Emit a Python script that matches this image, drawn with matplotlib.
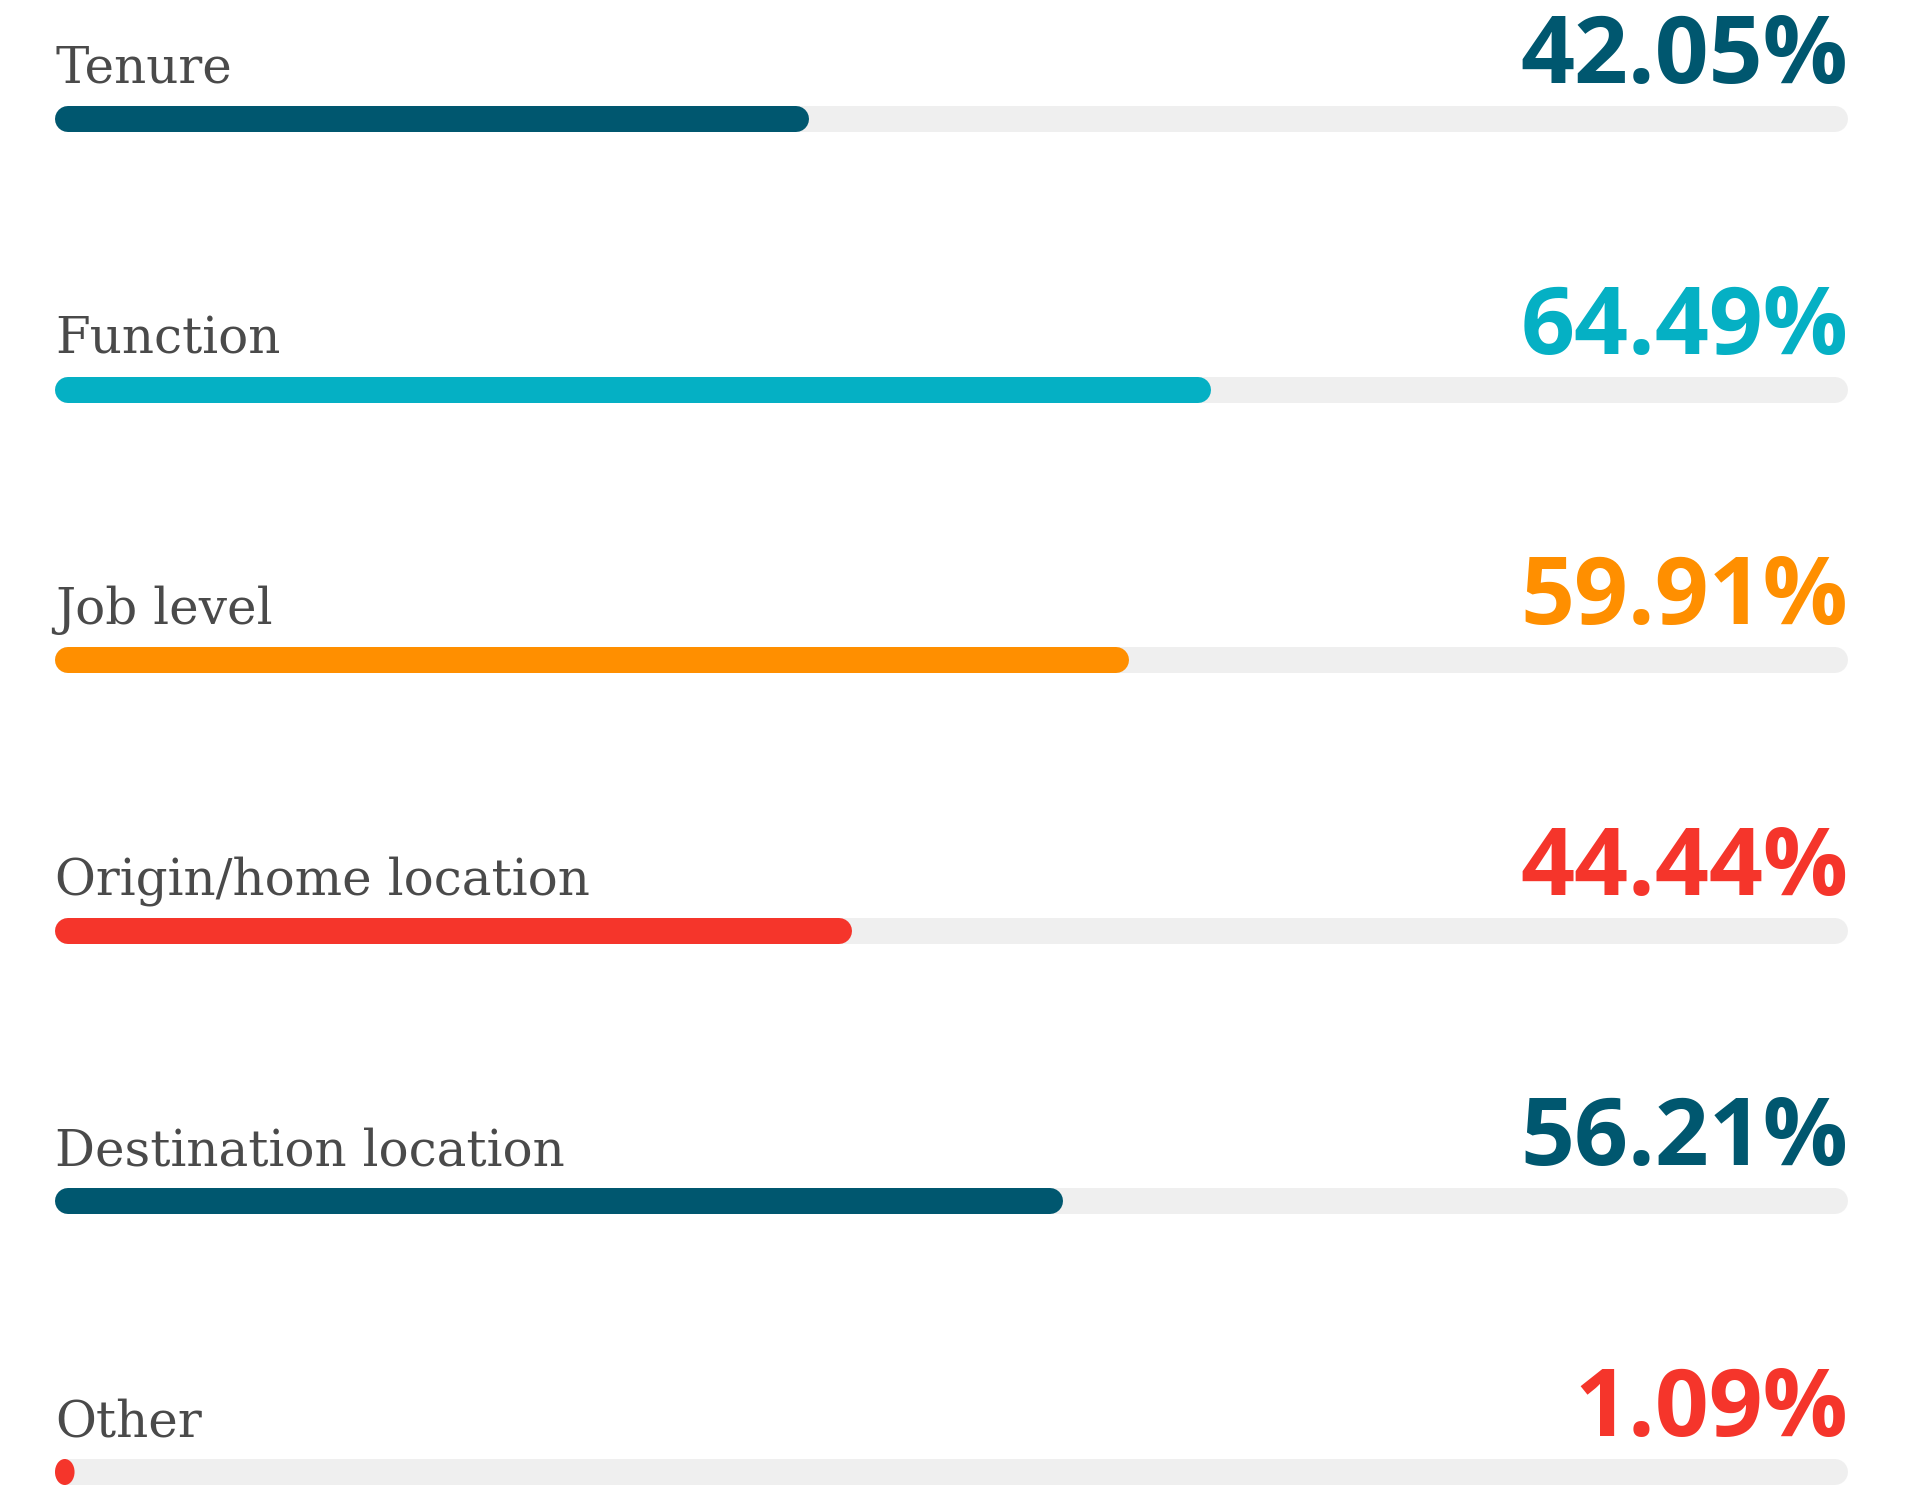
import matplotlib
matplotlib.use("Agg")
import matplotlib.pyplot as plt
from matplotlib.patches import Ellipse

categories = [
    "Tenure", "Function", "Job level",
    "Origin/home location", "Destination location", "Other"
]
values = [42.05, 64.49, 59.91, 44.44, 56.21, 1.09]
value_labels = ["42.05%", "64.49%", "59.91%", "44.44%", "56.21%", "1.09%"]
colors = ["#00576f", "#05b0c4", "#ff8f00", "#f5352b", "#00576f", "#f5352b"]

W, H = 1911, 1487
DPI = 100
TRACK_LEFT, TRACK_RIGHT = 55, 1848
FIRST_ROW, ROW_STEP = 119, 270.6
BAR_PX = 26


def main():
    fig = plt.figure(figsize=(W / DPI, H / DPI), dpi=DPI)
    ax = fig.add_axes([TRACK_LEFT / W, 0, (TRACK_RIGHT - TRACK_LEFT) / W, 1])
    ax.set_xlim(0, 100)
    ax.set_ylim((H - FIRST_ROW) / ROW_STEP, -FIRST_ROW / ROW_STEP)
    ax.axis("off")

    lw = BAR_PX * 72 / DPI
    # cap radius in data units
    r = (BAR_PX / 2) / (TRACK_RIGHT - TRACK_LEFT) * 100
    bar_h = BAR_PX / ROW_STEP
    text_off = 36 / ROW_STEP

    for i, (cat, val, lab, col) in enumerate(zip(categories, values, value_labels, colors)):
        ax.plot([r, 100 - r], [i, i], color="#efefef", lw=lw,
                solid_capstyle="round", zorder=1)
        if val > 2 * r:
            ax.plot([r, val - r], [i, i], color=col, lw=lw,
                    solid_capstyle="round", zorder=2)
        else:
            # too short for round caps, draw a small pill
            ax.add_patch(Ellipse((val / 2, i), val, bar_h, color=col,
                                 lw=0, zorder=2))
        ax.text(0, i - text_off, cat, ha="left", va="baseline",
                fontsize=36, family="DejaVu Serif", color="#4a4a4a")
        ax.text(100, i - text_off, lab, ha="right", va="baseline",
                fontsize=68, family="Open Sans", fontweight="bold", color=col)

    fig.savefig("out.png", dpi=DPI)
    plt.close(fig)


if __name__ == "__main__":
    main()
